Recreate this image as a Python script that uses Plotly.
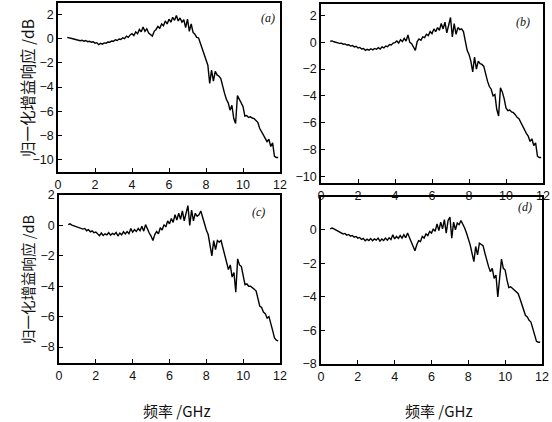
import plotly.graph_objects as go

freq = [0.5, 0.6, 0.7, 0.8, 0.9, 1.0, 1.1, 1.2, 1.3, 1.4, 1.5, 1.6, 1.7, 1.8, 1.9,
        2.0, 2.1, 2.2, 2.3, 2.4, 2.5, 2.6, 2.7, 2.8, 2.9, 3.0, 3.1, 3.2, 3.3, 3.4,
        3.5, 3.6, 3.7, 3.8, 3.9, 4.0, 4.1, 4.2, 4.3, 4.4, 4.5, 4.6, 4.7, 4.8, 4.9,
        5.0, 5.1, 5.2, 5.3, 5.4, 5.5, 5.6, 5.7, 5.8, 5.9, 6.0, 6.1, 6.2, 6.3, 6.4,
        6.5, 6.6, 6.7, 6.8, 6.9, 7.0, 7.1, 7.2, 7.3, 7.4, 7.5, 7.6, 7.7, 7.8, 7.9,
        8.0, 8.1, 8.2, 8.3, 8.4, 8.5, 8.6, 8.7, 8.8, 8.9, 9.0, 9.1, 9.2, 9.3, 9.4,
        9.5, 9.6, 9.7, 9.8, 9.9, 10.0, 10.1, 10.2, 10.3, 10.4, 10.5, 10.6, 10.7, 10.8, 10.9,
        11.0, 11.1, 11.2, 11.3, 11.4, 11.5, 11.6, 11.7, 11.8, 11.9]

gain_a = [0.10, 0.08, 0.02, -0.02, -0.06, -0.10, -0.12, -0.18, -0.14, -0.22, -0.16, -0.26, -0.22, -0.30, -0.26,
          -0.38, -0.34, -0.50, -0.40, -0.46, -0.36, -0.38, -0.28, -0.30, -0.20, -0.22, -0.10, -0.16, -0.04, -0.08,
          0.06, 0.00, 0.20, 0.10, 0.30, 0.40, 0.25, 0.55, 0.40, 0.75, 0.55, 0.95, 0.60, 0.80, 0.45,
          0.30, 0.20, 0.60, 0.75, 1.00, 0.85, 1.20, 1.05, 1.45, 1.20, 1.60, 1.35, 1.75, 1.50, 1.90,
          1.45, 1.70, 1.35, 1.55, 0.90, 1.60, 0.60, 1.20, 0.50, 0.35, 0.10, 0.05, -0.40, -0.90, -1.30,
          -1.70, -2.20, -3.70, -2.60, -3.50, -2.70, -3.00, -3.10, -3.30, -4.00, -4.50, -5.00, -5.30, -5.90, -5.50,
          -6.60, -7.00, -4.70, -5.00, -5.20, -5.60, -6.40, -6.35, -6.50, -6.45, -6.55, -6.60, -6.75, -6.90, -7.40,
          -7.70, -7.90, -8.20, -8.50, -8.30, -8.90, -8.60, -9.70, -9.80, -9.80]

gain_b = [0.08, 0.10, 0.04, 0.00, -0.04, -0.08, -0.06, -0.14, -0.12, -0.20, -0.18, -0.28, -0.24, -0.34, -0.30,
          -0.42, -0.38, -0.50, -0.46, -0.60, -0.52, -0.58, -0.48, -0.56, -0.46, -0.52, -0.40, -0.50, -0.34, -0.42,
          -0.28, -0.32, -0.16, -0.20, -0.06, -0.02, 0.10, -0.05, 0.20, 0.05, 0.30, 0.10, 0.55, 0.00, -0.10,
          -0.35, -0.60, 0.05, 0.25, 0.15, 0.40, 0.35, 0.60, 0.50, 0.80, 0.65, 1.00, 0.80, 1.10, 0.90,
          1.40, 1.00, 1.50, 0.70, 1.30, 1.85, 0.40, 1.40, 0.60, 1.10, 0.95, 1.00, 0.80, 0.10, -0.60,
          -0.90, -1.40, -2.20, -1.10, -2.00, -1.40, -1.60, -1.65, -1.80, -2.40, -2.90, -3.30, -3.50, -4.00, -3.90,
          -5.00, -5.50, -3.40, -3.70, -4.20, -4.90, -5.10, -5.05, -5.20, -5.25, -5.40, -5.60, -5.70, -6.00, -6.30,
          -6.60, -6.80, -7.00, -7.40, -7.20, -7.70, -7.50, -8.50, -8.60, -8.60]

gain_c = [0.05, 0.10, 0.02, -0.02, -0.08, -0.10, -0.14, -0.18, -0.24, -0.20, -0.35, -0.28, -0.42, -0.36, -0.48,
          -0.44, -0.58, -0.68, -0.50, -0.66, -0.55, -0.62, -0.48, -0.64, -0.52, -0.60, -0.46, -0.70, -0.50, -0.62,
          -0.42, -0.56, -0.40, -0.54, -0.20, -0.45, -0.28, -0.40, -0.20, -0.35, -0.05, -0.38, 0.05, -0.30, -0.50,
          -0.70, -1.00, -0.60, -0.40, -0.55, -0.15, -0.30, 0.05, -0.10, 0.30, 0.10, 0.45, 0.20, 0.70, 0.35,
          0.80, 0.40, 0.95, 0.30, 0.90, 1.30, 0.00, 1.00, 0.30, 0.80, 0.60, 0.70, 0.95, 0.50, 0.20,
          -0.30, -0.60, -1.20, -2.00, -1.00, -1.60, -1.00, -1.10, -1.00, -1.50, -2.10, -2.40, -2.90, -2.60, -3.40,
          -3.10, -4.40, -2.20, -2.60, -2.70, -3.20, -3.90, -3.85, -4.00, -4.00, -4.10, -4.15, -4.30, -4.80, -5.30,
          -5.40, -5.70, -5.80, -6.10, -6.00, -6.40, -6.90, -7.40, -7.55, -7.60]

gain_d = [0.05, 0.10, 0.05, -0.02, -0.08, -0.15, -0.20, -0.25, -0.22, -0.32, -0.28, -0.38, -0.34, -0.44, -0.40,
          -0.50, -0.46, -0.58, -0.52, -0.66, -0.56, -0.64, -0.52, -0.66, -0.55, -0.62, -0.50, -0.68, -0.55, -0.64,
          -0.50, -0.62, -0.48, -0.58, -0.30, -0.55, -0.40, -0.52, -0.35, -0.50, -0.30, -0.48, -0.20, -0.45, -0.70,
          -0.95, -1.25, -0.90, -0.65, -0.70, -0.40, -0.50, -0.25, -0.35, -0.10, -0.20, 0.05, -0.10, 0.35, -0.05,
          0.45, 0.05, 0.60, -0.20, 0.55, 0.75, -0.50, 0.45, 0.00, 0.40, 0.30, 0.55, 0.35, 0.10, -0.20,
          -0.55, -0.90, -1.40, -1.90, -1.00, -1.50, -0.80, -0.90, -0.95, -1.40, -1.85, -2.20, -2.50, -2.30, -2.90,
          -2.70, -4.00, -2.60, -1.75, -2.30, -2.40, -3.00, -3.45, -3.40, -3.50, -3.55, -3.65, -3.80, -4.10, -4.40,
          -4.70, -5.10, -5.20, -5.40, -5.50, -5.90, -6.30, -6.65, -6.70, -6.70]

panel_labels = ["(a)", "(b)", "(c)", "(d)"]
y_title = "归一化增益响应 /dB"
x_title = "频率 /GHz"
x_ticks = [0, 2, 4, 6, 8, 10, 12]
y_ticks_a = [2, 0, -2, -4, -6, -8, -10]
y_ticks_b = [2, 0, -2, -4, -6, -8, -10]
y_ticks_c = [2, 0, -2, -4, -6, -8]
y_ticks_d = [2, 0, -2, -4, -6, -8]

W, H = 552, 422

def fx(px):
    return px / W

def fy(py):
    return 1 - py / H

# pixel boxes: (left, right, top, bottom)
boxes = [(58, 280, 3, 172), (321, 543, 4, 183), (59, 280, 195, 363), (321, 542, 197, 364)]
y_ranges = [[-11, 2.93], [-10.5, 2.86], [-9.05, 2.0], [-8, 1.95]]
y_ticks = [y_ticks_a, y_ticks_b, y_ticks_c, y_ticks_d]
series = [gain_a, gain_b, gain_c, gain_d]

fig = go.Figure()
tick_font = dict(family="Liberation Sans, Arial, sans-serif", size=12.5, color="#111")
layout = dict(width=W, height=H, margin=dict(l=0, r=0, t=0, b=0, autoexpand=False),
              paper_bgcolor="white", plot_bgcolor="white", showlegend=False)

for i, (g, box) in enumerate(zip(series, boxes)):
    n = "" if i == 0 else str(i + 1)
    fig.add_trace(go.Scatter(x=freq, y=g, mode="lines",
                             line=dict(color="black", width=1.4),
                             xaxis="x" + n, yaxis="y" + n))
    l, r, t, b = box
    layout["xaxis" + n] = dict(domain=[fx(l), fx(r)], range=[0, 12], anchor="y" + n,
                               tickvals=x_ticks, ticks="inside", ticklen=4, tickwidth=1,
                               tickcolor="black", showline=True, linecolor="black", linewidth=1.5,
                               mirror=True, showgrid=False, zeroline=False, tickfont=tick_font,
                               automargin=False)
    layout["yaxis" + n] = dict(domain=[fy(b), fy(t)], range=y_ranges[i], anchor="x" + n,
                               tickvals=y_ticks[i], ticks="inside", ticklen=4, tickwidth=1,
                               tickcolor="black", showline=True, linecolor="black", linewidth=1.5,
                               mirror=True, showgrid=False, zeroline=False, tickfont=tick_font,
                               automargin=False)

fig.update_layout(**layout)

ann = []
label_pos = [(268, 18), (523, 22), (258, 212), (525, 207)]
for lab, (px, py) in zip(panel_labels, label_pos):
    ann.append(dict(x=fx(px), y=fy(py), xref="paper", yref="paper", showarrow=False,
                    xanchor="center", yanchor="middle",
                    text="<i>" + lab + "</i>",
                    font=dict(family="Liberation Serif, serif", size=12, color="#111")))
for py, sz in ((88, 15.5), (280, 14.5)):
    ann.append(dict(x=fx(27), y=fy(py), xref="paper", yref="paper", showarrow=False,
                    xanchor="center", yanchor="middle",
                    text=y_title, textangle=-90,
                    font=dict(family="Noto Sans CJK SC", size=sz, color="#111")))
for px in (177, 439):
    ann.append(dict(x=fx(px), y=fy(410), xref="paper", yref="paper", showarrow=False,
                    xanchor="center", yanchor="middle",
                    text=x_title,
                    font=dict(family="Noto Sans CJK SC, Liberation Sans", size=15, color="#111")))
fig.update_layout(annotations=ann)

fig.write_html("out.html", config={"displayModeBar": False},
               post_script="document.body.style.margin='0px';document.body.style.overflow='hidden';")
